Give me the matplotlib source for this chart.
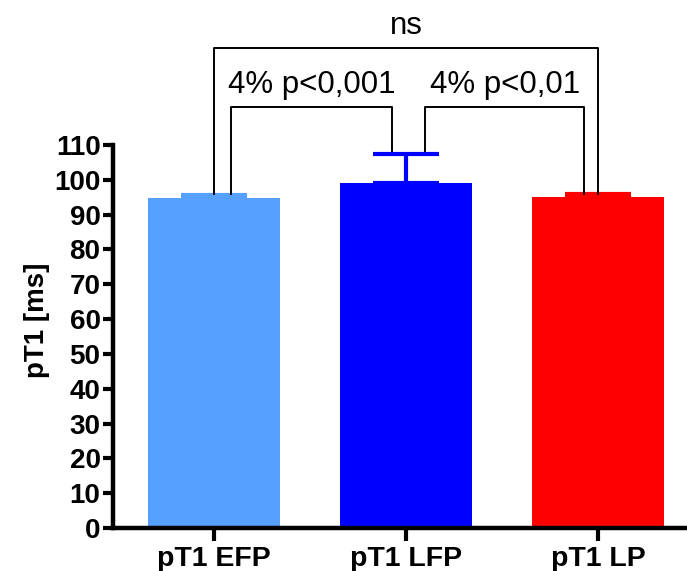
import numpy as np
import matplotlib
matplotlib.use('Agg')
import matplotlib.pyplot as plt

plt.rcParams['font.family'] = ['Liberation Sans', 'DejaVu Sans']

groups = ['pT1 EFP', 'pT1 LFP', 'pT1 LP']
means = [94.8, 99.2, 95.1]
errors = [0.7, 8.3, 0.8]
colors = ['#56A0FF', '#0000FF', '#FF0000']

# significance brackets: (x1, x2, y_bar, y_left_end, y_right_end, label)
brackets = [
    (0.09, 0.925, 120.9, 95.8, 108.2, '4% p<0,001'),
    (1.10, 1.93, 120.9, 108.2, 96.0, '4% p<0,01'),
    (0.0, 2.0, 137.8, 95.8, 96.0, 'ns'),
]


def main():
    fig = plt.figure(figsize=(6.87, 5.71), dpi=100)
    ax = fig.add_axes([0.1645, 0.0753, 0.8355, 0.9247])
    x = np.arange(len(groups))
    ax.bar(x, means, width=0.69, color=colors, zorder=2)
    for xi, m, e, c in zip(x, means, errors, colors):
        ax.errorbar(xi, m, yerr=[[0], [e]], color=c, capsize=24,
                    elinewidth=3, capthick=3, zorder=3)

    for x1, x2, yb, yl, yr, label in brackets:
        ax.plot([x1, x1, x2, x2], [yl, yb, yb, yr], color='black', lw=1.4,
                clip_on=False, zorder=4)
        ax.text((x1 + x2) / 2, yb + 2.0, label, ha='center', va='bottom',
                fontsize=22.5)

    ax.set_xlim(-0.526, 2.464)
    ax.set_ylim(0, 151.6)
    ax.set_yticks(np.arange(0, 111, 10))
    ax.set_xticks(x)
    ax.set_xticklabels(groups, fontsize=20.5, fontweight='bold')
    for lab in ax.get_yticklabels():
        lab.set_fontsize(20)
        lab.set_fontweight('bold')
    ax.spines['top'].set_visible(False)
    ax.spines['right'].set_visible(False)
    ax.spines['left'].set_bounds(0, 110)
    ax.spines['left'].set_linewidth(3.2)
    ax.spines['bottom'].set_linewidth(3.2)
    ax.tick_params(axis='both', width=3, length=7, pad=2)
    ax.tick_params(axis='x', length=9, pad=4)
    ax.set_ylabel('pT1 [ms]', fontsize=20, fontweight='bold')
    ax.yaxis.set_label_coords(-0.11, 0.394)

    fig.savefig('out.png', dpi=100)


if __name__ == '__main__':
    main()
